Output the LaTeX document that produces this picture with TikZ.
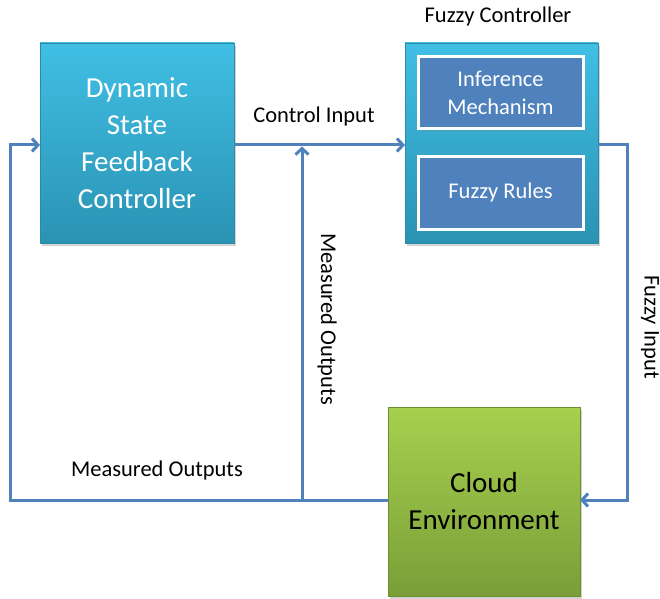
\documentclass[tikz,border=0pt]{standalone}
\usepackage{fontspec}
\setmainfont{Carlito}
\usetikzlibrary{arrows.meta,shadows,positioning}
\definecolor{lineblue}{HTML}{4F81BD}
\definecolor{cyantop}{HTML}{40BFE4}
\definecolor{cyanbot}{HTML}{2A93B4}
\definecolor{cyanedge}{HTML}{2B8AAA}
\definecolor{greentop}{HTML}{A7D04E}
\definecolor{greenbot}{HTML}{7A9E38}
\definecolor{greenedge}{HTML}{6E8F30}
\begin{document}
\begin{tikzpicture}[x=1pt,y=1pt,
  bigbox/.style={rectangle, minimum width=194pt, minimum height=200pt, inner sep=0pt,
    top color=cyantop, bottom color=cyanbot, draw=cyanedge, line width=0.8pt,
    drop shadow={shadow xshift=2pt, shadow yshift=-3pt, opacity=0.35},
    text=white, align=center, font=\fontsize{29}{37}\selectfont},
  greenbox/.style={rectangle, minimum width=192pt, minimum height=189pt, inner sep=0pt,
    top color=greentop, bottom color=greenbot, draw=greenedge, line width=0.8pt,
    drop shadow={shadow xshift=2pt, shadow yshift=-3pt, opacity=0.35},
    text=black, align=center, font=\fontsize{29}{37}\selectfont},
  innerbox/.style={rectangle, minimum width=165pt, minimum height=72pt, inner sep=0pt,
    fill=lineblue, draw=white, line width=3pt, text=white, align=center,
    drop shadow={shadow xshift=1pt, shadow yshift=-2pt, opacity=0.3},
    font=\fontsize{22.5}{28}\selectfont},
  lbl/.style={font=\fontsize{22.5}{27}\selectfont, text=black, inner sep=0pt},
  conn/.style={draw=lineblue, line width=3pt},
  arr/.style={conn, -{Straight Barb[length=6pt,width=13pt,line width=3pt]}}
]
\useasboundingbox (0,0) rectangle (660,598);

\node[bigbox] (dsfc) at (137,455) {Dynamic\\State\\Feedback\\Controller};
\node[bigbox, minimum width=193pt] (fc) at (501.5,455) {};
\node[innerbox] (inf) at (500.5,505) {Inference\\Mechanism};
\node[innerbox] (rules) at (500.5,405) {Fuzzy Rules};
\node[greenbox] (cloud) at (484,96.5) {Cloud\\Environment};

\node[lbl] (fclbl) at (498,581) {Fuzzy Controller};
\node[lbl] (cilbl) at (314,481) {Control Input};
\node[lbl, rotate=-90] (molbl1) at (327,279) {Measured Outputs};
\node[lbl, rotate=-90] (filbl) at (650,271) {Fuzzy Input};
\node[lbl] (molbl2) at (157,128) {Measured Outputs};

\coordinate (dsout) at (234,453);
\coordinate (fcin) at (405,453);
\coordinate (fcout) at (598,453);
\coordinate (jtop) at (302,453);
\coordinate (jbot) at (302,98);
\coordinate (lbot) at (10,98);
\coordinate (ltop) at (10,453);
\coordinate (dsin) at (40,453);
\coordinate (rtop) at (627,453);
\coordinate (rbot) at (627,98);
\coordinate (clin) at (580,98);
\coordinate (clout) at (388,98);

\draw[arr] (dsout) -- (fcin);
\draw[arr] (jbot) -- ([yshift=-1.5pt]jtop);
\draw[arr] (clout) -- (lbot) -- (ltop) -- (dsin);
\draw[arr] (fcout) -- (rtop) -- (rbot) -- (clin);
\end{tikzpicture}
\end{document}
